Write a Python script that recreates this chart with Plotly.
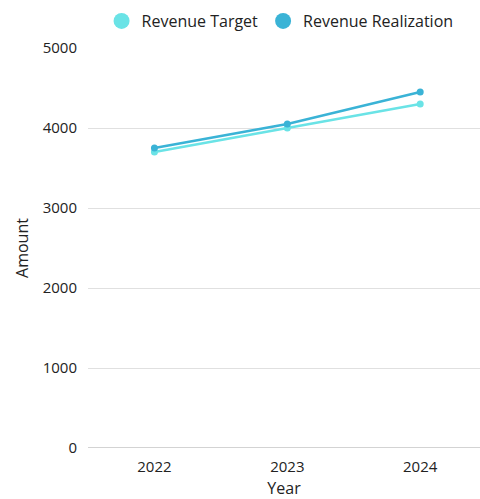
import plotly.graph_objects as go

years = ["2022", "2023", "2024"]
target = [3700, 4000, 4300]
realization = [3750, 4050, 4450]
series_names = ["Revenue Target", "Revenue Realization"]
colors = ["#6ae3e6", "#3ab3d6"]

fig = go.Figure()
for name, vals, c in zip(series_names, [target, realization], colors):
    fig.add_trace(go.Scatter(x=years, y=vals, mode="lines+markers", name=name,
                             line=dict(color=c, width=2.5), marker=dict(size=7, color=c),
                             showlegend=False))
for name, c in zip(series_names, colors):
    fig.add_trace(go.Scatter(x=[None], y=[None], mode="markers", name=name,
                             marker=dict(size=17, color=c)))

fig.update_layout(
    width=480, height=499,
    margin=dict(l=88, r=0, t=48, b=51),
    paper_bgcolor="white", plot_bgcolor="white",
    font=dict(family="Open Sans", size=15, color="#222"),
    legend=dict(orientation="h", x=0.49, xanchor="center", y=0.992, yanchor="top",
                yref="container", font=dict(size=16), itemsizing="trace",
                itemwidth=30, tracegroupgap=0),
    xaxis=dict(type="category", range=[-0.5, 2.45], showgrid=False, automargin=False,
               title=dict(text="Year", standoff=15, font=dict(size=16)), ticks="",
               showline=False, ticklabelstandoff=8),
    yaxis=dict(range=[0, 5000], dtick=1000, gridcolor="#e0e0e0", zeroline=False,
               automargin=False,
               showline=False, title=dict(text="Amount", standoff=10, font=dict(size=16)),
               ticks="", ticklabelstandoff=10),
)
fig.add_shape(type="line", xref="paper", yref="y", x0=0, x1=1, y0=0, y1=0,
              line=dict(color="#c4c4c4", width=1.5))
fig.write_html("out.html")
